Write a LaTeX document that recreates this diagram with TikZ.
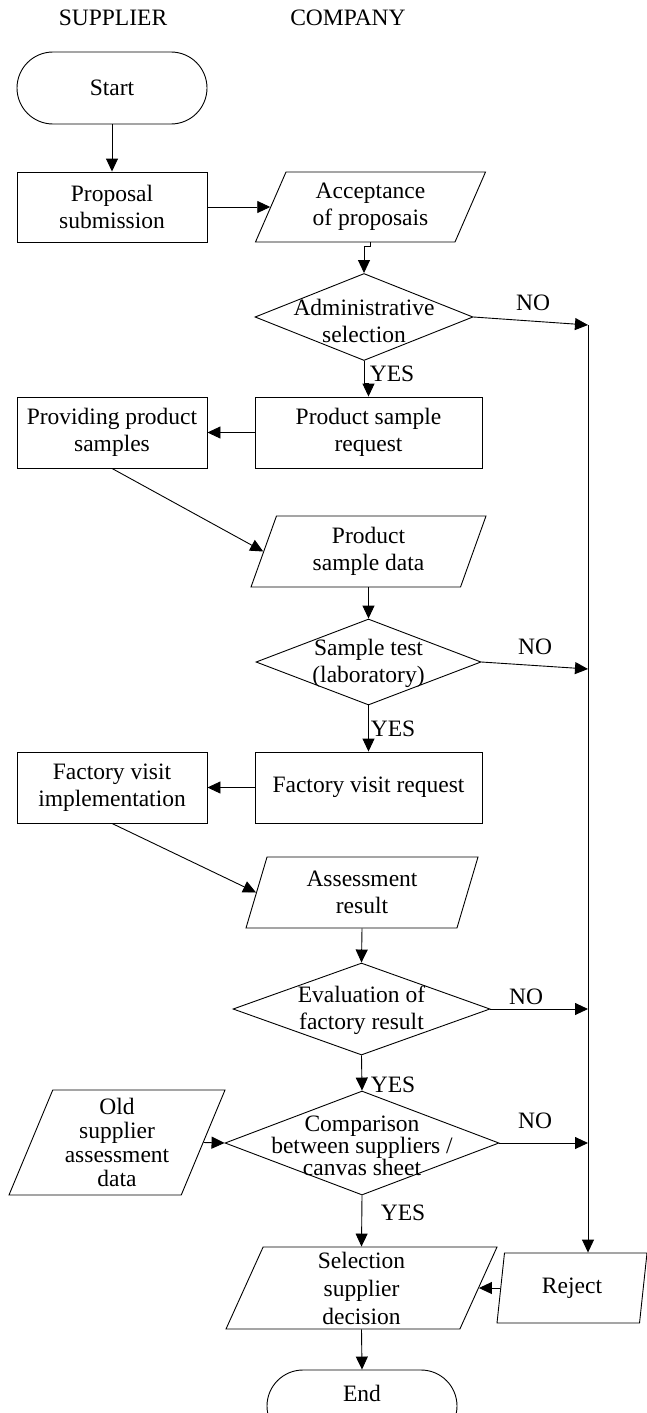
\documentclass[tikz,border=0pt]{standalone}
\usepackage{fontspec}
\setmainfont{Liberation Serif}
\usetikzlibrary{shapes.geometric,arrows.meta}
\begin{document}
\begin{tikzpicture}[x=1pt,y=-1pt,
  every node/.style={inner sep=0pt},
  base/.style={draw, line width=0.9pt},
  txt/.style={font=\fontsize{23.5}{27}\selectfont, align=center},
  stad/.style={base, txt, rectangle, rounded corners=36pt, minimum width=190pt, minimum height=72pt},
  procbox/.style 2 args={base, txt, rectangle, minimum width=#1, minimum height=#2},
  para/.style n args={4}{base, txt, trapezium, trapezium left angle=#1, trapezium right angle=#2, trapezium stretches body, minimum width=#3, minimum height=#4},
  dia/.style 2 args={base, diamond, minimum width=#1, minimum height=#2},
  arr/.style={line width=0.9pt, -{Triangle[length=13pt,width=12pt]}},
  lab/.style={txt}
]
\useasboundingbox (0,0) rectangle (647,1413);
\clip (0,0) rectangle (647,1413);

% headers
\node[txt] (hs) at (113,18) {SUPPLIER};
\node[txt] (hc) at (348,18) {COMPANY};

% shapes
\node[stad] (start) at (112,88) {Start};
\node[procbox={190pt}{70pt}] (prop) at (112,207) {Proposal\\submission};
\node[para={57.3}{122.7}{230pt}{70pt}] (acc) at (370.5,207) {Acceptance\\of proposais};
\node[dia={218pt}{87pt}] (adm) at (364,317) {};
\node[txt] (admt) at (364,321) {Administrative\\selection};
\node[procbox={227pt}{71pt}] (psr) at (368.5,432.5) {Product sample\\request};
\node[procbox={190pt}{71pt}] (pps) at (112,432.5) {Providing product\\samples};
\node[para={62.2}{117.8}{235pt}{71pt}] (psd) at (368.5,551.5) {Product\\sample data};
\node[dia={225pt}{86pt}] (st) at (368.5,662) {};
\node[txt] (stt) at (368.5,663) {Sample test\\(laboratory)};
\node[procbox={227pt}{71pt}] (fvr) at (368.5,787.5) {Factory visit request};
\node[procbox={190pt}{71pt}] (fvi) at (112,787.5) {Factory visit\\implementation};
\node[para={63.8}{116.2}{232pt}{71pt}] (ar) at (362,892.5) {Assessment\\result};
\node[dia={257pt}{92pt}] (ev) at (361.5,1009) {};
\node[txt] (evt) at (361.5,1010) {Evaluation of\\factory result};
\node[dia={274pt}{104pt}] (cmp) at (362,1143) {};
\node[txt, font=\fontsize{23.5}{21}\selectfont] (cmpt) at (362,1146) {Comparison\\between suppliers /\\canvas sheet};
\node[para={63.7}{116.3}{216pt}{105pt}, font=\fontsize{23.5}{24}\selectfont] (old) at (117,1142.5) {Old\\supplier\\assessment\\data};
\node[para={62.9}{117.1}{271pt}{82pt}, font=\fontsize{23.5}{28}\selectfont] (sel) at (361.5,1288) {Selection\\supplier\\decision};
\node[para={70}{110}{150pt}{70pt}] (rej) at (572,1288) {Reject};
\node[stad] (end) at (362,1406) {};
\node[txt] (endt) at (362,1393) {End};

% reject line coordinates
\coordinate (r1) at (588,325);
\coordinate (r2) at (588,669);
\coordinate (r3) at (588,1009);
\coordinate (r4) at (588,1143);

% connectors
\draw[arr] (start) -- (prop);
\draw[arr] (prop.east) -- (acc.left side);
\draw[arr] (acc.center |- acc.bottom side) -- ++(0,4) -| (adm.north);
\draw[arr] (adm.east) -- (r1);
\draw[arr] (r1) -- (rej.top side -| r1);
\draw[arr] (adm.south) -- ++(0,22) -| (psr.north);
\draw[arr] (psr.west) -- (pps.east);
\draw[arr] (pps.south) -- (psd.left side);
\draw[arr] (psd.center |- psd.bottom side) -- (st.north);
\draw[arr] (st.east) -- (r2);
\draw[arr] (st.south) -- (fvr.north);
\draw[arr] (fvr.west) -- (fvi.east);
\draw[arr] (fvi.south) -- (ar.left side);
\draw[arr] (ar.center |- ar.bottom side) -- (ev.north);
\draw[arr] (ev.east) -- (r3);
\draw[arr] (ev.south) -- (cmp.north);
\draw[arr] (old.right side) -- (cmp.west);
\draw[arr] (cmp.east) -- (r4);
\draw[arr] (cmp.south) -- (sel.center |- sel.top side);
\draw[arr] (rej.left side) -- (sel.right side);
\draw[arr] (sel.center |- sel.bottom side) -- (end.north);

% labels
\node[lab] (no1) at (533,303) {NO};
\node[lab] (no2) at (535,647) {NO};
\node[lab] (no3) at (526,997) {NO};
\node[lab] (no4) at (535,1121) {NO};
\node[lab] (yes1) at (392,374) {YES};
\node[lab] (yes2) at (393,729) {YES};
\node[lab] (yes3) at (393,1085) {YES};
\node[lab] (yes4) at (403,1213) {YES};
\end{tikzpicture}
\end{document}
